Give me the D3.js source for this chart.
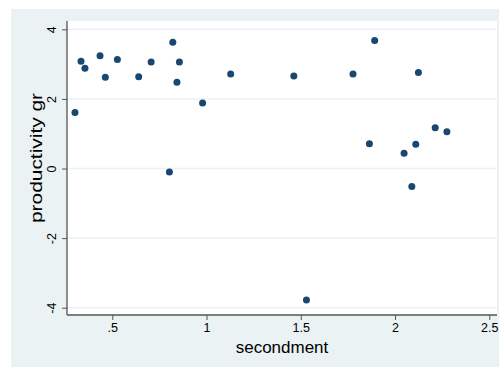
<!DOCTYPE html>
<html><head><meta charset="utf-8">
<script src="https://cdn.jsdelivr.net/npm/d3@7"></script>
<style>body{margin:0;background:#fff}svg{display:block}text{font-family:"Liberation Sans",Arial,sans-serif;fill:#000}</style>
</head><body>
<script>
const secondment = [0.302,0.334,0.355,0.435,0.463,0.527,0.640,0.706,0.821,0.856,0.843,0.979,1.128,0.803,1.463,1.777,1.892,2.124,1.864,2.048,2.110,2.213,2.275,2.089,1.530];
const productivity = [1.61,3.08,2.88,3.24,2.62,3.13,2.64,3.06,3.63,3.06,2.48,1.88,2.72,-0.10,2.66,2.72,3.68,2.76,0.71,0.44,0.70,1.17,1.06,-0.52,-3.78];
const xTicks = [0.5,1,1.5,2,2.5];
const yTicks = [-4,-2,0,2,4];
const fmt = v => String(v).replace(/^0\./,'.').replace(/^-0\./,'-.');

const W=499,H=367;
const L=67,R=497,T=21,B=315;
const svg=d3.select("body").append("svg").attr("width",W).attr("height",H);
svg.append("rect").attr("width",W).attr("height",H).attr("fill","#fff");
svg.append("rect").attr("x",11).attr("y",9).attr("width",W-11).attr("height",H-9).attr("fill","#eaf2f3");
svg.append("rect").attr("x",L).attr("y",T).attr("width",R-L).attr("height",B-T).attr("fill","#fff");

const x=d3.scaleLinear().domain([0.2597,2.5409]).range([L,R]);
const y=d3.scaleLinear().domain([-4.21,4.24]).range([B,T]);

svg.append("g").selectAll("line").data(yTicks).join("line")
  .attr("x1",L).attr("x2",R).attr("y1",d=>y(d)).attr("y2",d=>y(d))
  .attr("stroke","#eaf2f3").attr("stroke-width",1.5);

const gx=svg.append("g").attr("transform",`translate(0,${B})`)
  .call(d3.axisBottom(x).tickValues(xTicks).tickFormat(fmt).tickSize(5).tickPadding(3).tickSizeOuter(0));
const gy=svg.append("g").attr("transform",`translate(${L},0)`)
  .call(d3.axisLeft(y).tickValues(yTicks).tickFormat(fmt).tickSize(5).tickPadding(3).tickSizeOuter(0));
[gx,gy].forEach(g=>{
  g.select(".domain").attr("stroke","#555").attr("stroke-width",1.3);
  g.selectAll(".tick line").attr("stroke","#555").attr("stroke-width",1);
  g.selectAll(".tick text").attr("font-size",12.5).attr("font-family","Liberation Sans, Arial, sans-serif").attr("fill","#000");
});
gx.select(".domain").attr("d",`M${L},0H${R}`);
gy.select(".domain").attr("d",`M0,${T}V${B}`);
gy.selectAll(".tick text").attr("text-anchor","middle").attr("dy",null)
  .attr("transform","translate(-15,0) rotate(-90)").attr("x",0).attr("y",0).attr("dominant-baseline","central");

svg.append("g").selectAll("circle").data(secondment).join("circle")
  .attr("cx",d=>x(d)).attr("cy",(d,i)=>y(productivity[i])).attr("r",3.5).attr("fill","#1a476f");

svg.append("text").attr("x",282).attr("y",353).attr("text-anchor","middle").attr("font-size",17).text("secondment");
svg.append("text").attr("transform","translate(42,158) rotate(-90)").attr("text-anchor","middle")
  .attr("font-size",16).attr("textLength",130).attr("lengthAdjust","spacingAndGlyphs").text("productivity gr");
</script>
</body></html>
